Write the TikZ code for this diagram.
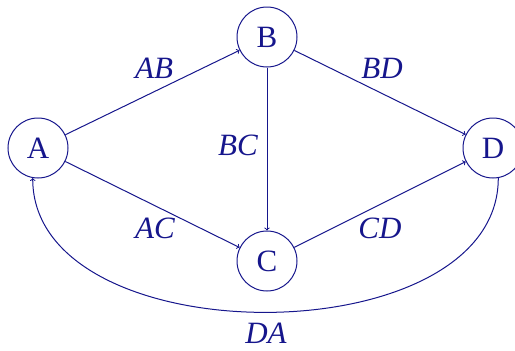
\documentclass[tikz,border=0pt]{standalone}
\usepackage{fontspec}
\setmainfont{Liberation Serif}
\definecolor{navy}{RGB}{22,22,140}
\begin{document}
\begin{tikzpicture}[x=1pt,y=-1pt,
  vertex/.style={circle,draw=navy,text=navy,line width=1pt,minimum size=60pt,inner sep=0pt,font=\fontsize{31}{37}\selectfont},
  edge/.style={draw=navy,line width=1pt,->},
  lbl/.style={text=navy,inner sep=0pt,font=\fontsize{31}{37}\selectfont\itshape}]
\useasboundingbox (0,0) rectangle (515,351);
\node[vertex] (A) at (38,148) {A};
\node[vertex] (B) at (267,37) {B};
\node[vertex] (C) at (267,261) {C};
\node[vertex] (D) at (493,148) {D};
\draw[edge] (A) -- (B);
\draw[edge] (B) -- (D);
\draw[edge] (B) -- (C);
\draw[edge] (A) -- (C);
\draw[edge] (C) -- (D);
\draw[edge] (D.-80) .. controls +(0,179) and +(0,179) .. (A.-100);
\node[lbl] (lAB) at (154,68) {AB};
\node[lbl] (lBD) at (382,68) {BD};
\node[lbl] (lBC) at (238,145) {BC};
\node[lbl] (lAC) at (155,228) {AC};
\node[lbl] (lCD) at (380,228) {CD};
\node[lbl] (lDA) at (266,333) {DA};
\end{tikzpicture}
\end{document}
